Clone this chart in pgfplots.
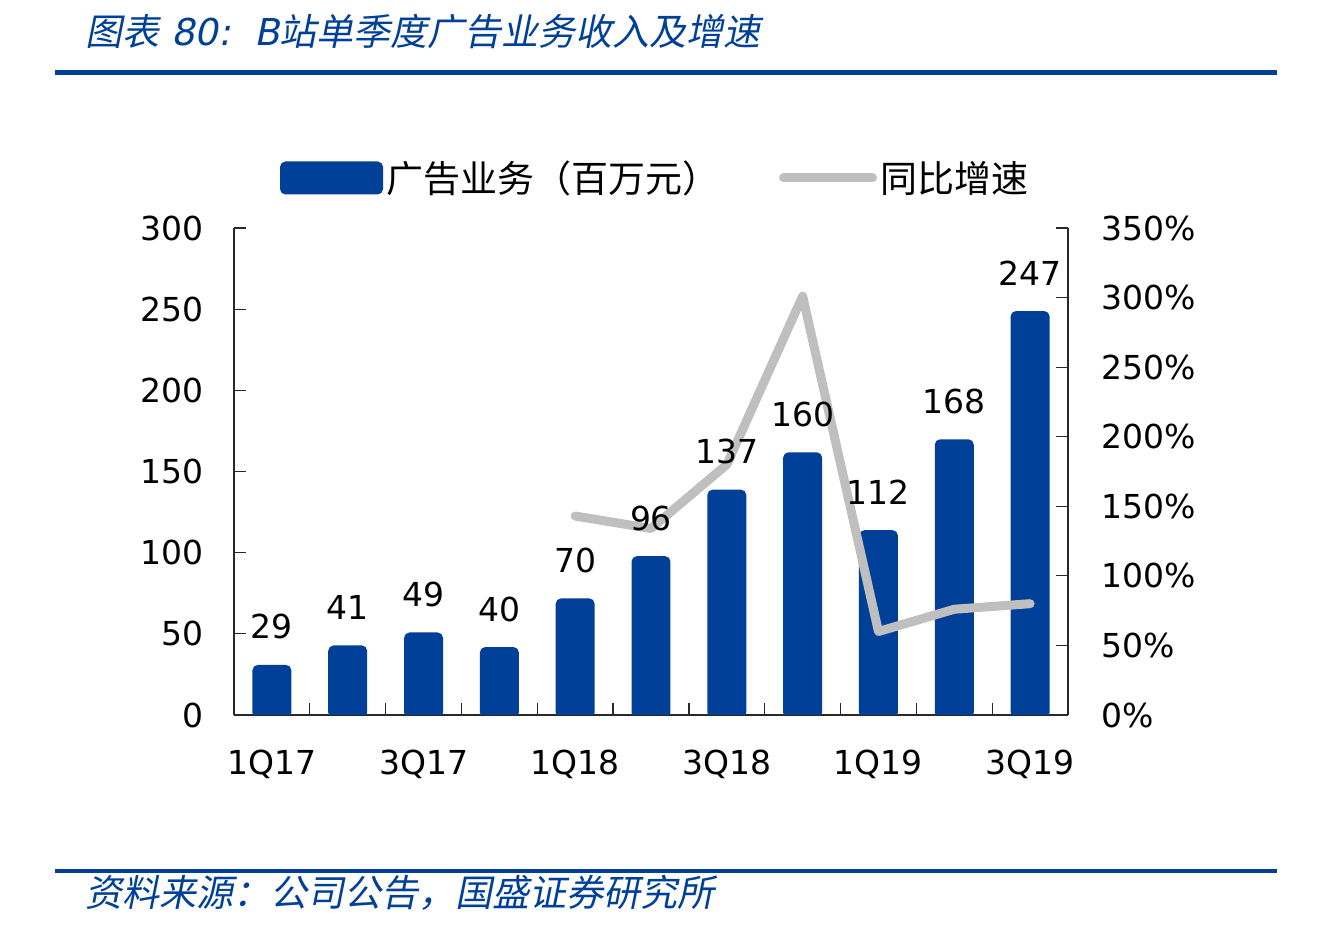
\documentclass[border=0pt]{standalone}
\usepackage{fontspec}
\usepackage{pgfplots}
\pgfplotsset{compat=1.18}
\setmainfont{DejaVu Sans}
\newfontfamily\cjk{Noto Sans CJK SC}
\newfontfamily\cjkit{Noto Sans CJK SC}[FakeSlant=0.2]
\newfontfamily\latit{DejaVu Sans}[FakeSlant=0.2]
\definecolor{barblue}{RGB}{0,64,152}
\definecolor{linegray}{RGB}{191,191,191}
\definecolor{axisc}{RGB}{40,40,40}
\pgfplotstableread{
x  rev
0  29
1  41
2  49
3  40
4  70
5  96
6  137
7  160
8  112
9  168
10 247
}\revtable
\pgfplotstableread{
x  yoy
4  143
5  134
6  180
7  301
8  60
9  76
10 80
}\yoytable
\pgfplotsset{common/.style={
  at={(117pt,106pt)}, anchor=south west,
  scale only axis, width=417pt, height=243.5pt,
  xmin=-0.5, xmax=10.5}}
\begin{document}
\begin{tikzpicture}
\useasboundingbox (0,0) rectangle (662pt,463.5pt);
% title and rules
\node[anchor=west, inner sep=0pt, text=barblue, font=\fontsize{18.5}{20}\selectfont] at (42.5pt,447.5pt)
  {{\cjkit 图表}{\latit\ 80:\ \ B}{\cjkit 站单季度广告业务收入及增速}};
\draw[barblue, line width=2.5pt] (27.5pt,427pt) -- (638.5pt,427pt);
\draw[barblue, line width=2pt] (27.5pt,28pt) -- (638.5pt,28pt);
\node[anchor=west, inner sep=0pt, text=barblue, font=\fontsize{18.5}{20}\selectfont] at (42.5pt,17pt)
  {\cjkit 资料来源：公司公告，国盛证券研究所};
% bars
\begin{axis}[common,
  ymin=0, ymax=300,
  axis x line*=bottom, axis y line*=left,
  axis line style={axisc, line width=0.6pt},
  xtick={0.5,1.5,...,9.5}, xticklabels={},
  extra x ticks={0,2,4,6,8,10},
  extra x tick labels={1Q17,3Q17,1Q18,3Q18,1Q19,3Q19},
  extra x tick style={major tick length=0pt},
  ytick={0,50,...,300},
  tick align=inside, major tick length=6pt,
  tick style={axisc, line width=0.6pt},
  ticklabel style={font=\fontsize{16.5}{18}\selectfont},
  /pgf/number format/assume math mode=true,
  y tick label style={xshift=-11.5pt},
  x tick label style={yshift=-14pt},
  legend columns=2,
  legend style={at={(0.0552,1.1027)}, anchor=west, draw=none, fill=none,
    inner sep=0pt, outer sep=0pt,
    font=\cjk\fontsize{18.5}{20}\selectfont,
    nodes={inner sep=1.5pt},
    /tikz/every even column/.append style={column sep=28.5pt}},
  legend cell align=left,
]
\addplot[ybar, bar width=0.435, fill=barblue, draw=barblue, line width=3pt, rounded corners=1.5pt,
  legend image code/.code={\fill[barblue, rounded corners=1.5pt] (0pt,-6.75pt) rectangle (48.5pt,6.75pt);}]
  table[x=x, y=rev] {\revtable};
\addlegendentry{广告业务（百万元）}
\addlegendimage{linegray, line width=4.5pt, line cap=round,
  legend image code/.code={\draw[linegray, line width=4.5pt, line cap=round] (-0.5pt,0pt) -- (44pt,0pt);}}
\addlegendentry{同比增速}
\end{axis}
% growth line on right axis
\begin{axis}[common,
  ymin=0, ymax=350,
  axis x line=none, axis y line*=right,
  axis line style={axisc, line width=0.6pt},
  ytick={0,50,...,350},
  tick align=inside, major tick length=6pt,
  tick style={axisc, line width=0.6pt},
  ticklabel style={font=\fontsize{16.5}{18}\selectfont},
  /pgf/number format/assume math mode=true,
  yticklabel={\pgfmathprintnumber{\tick}\%},
  y tick label style={xshift=13pt},
]
\addplot[linegray, line width=4.5pt, line join=round, line cap=round]
  table[x=x, y=yoy] {\yoytable};
\end{axis}
% bar value labels on top
\begin{axis}[common, ymin=0, ymax=300, hide axis,
  /pgf/number format/assume math mode=true]
\addplot[draw=none, mark=none, nodes near coords,
  every node near coord/.append style={text=black, anchor=center, yshift=20.5pt,
     font=\fontsize{16.5}{18}\selectfont}]
  table[x=x, y=rev] {\revtable};
\end{axis}
\end{tikzpicture}
\end{document}
